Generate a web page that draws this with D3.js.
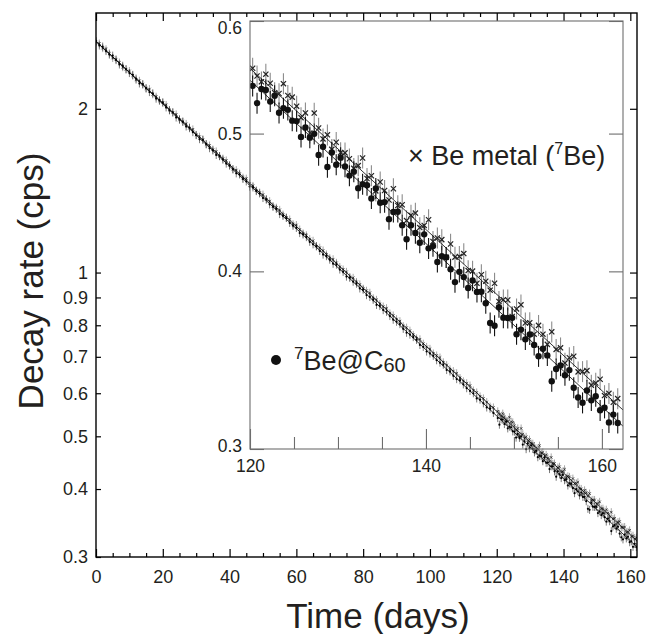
<!DOCTYPE html>
<html>
<head>
<meta charset="utf-8">
<script src="https://cdn.jsdelivr.net/npm/d3@7"></script>
<style>
  body { margin: 0; background: #fff; }
  svg { font-family: "Liberation Sans", Arial, Helvetica, sans-serif; }
</style>
</head>
<body>
<div id="chart"></div>
<script>
'use strict'

////////////////////////////////////
//////////// data //////////////////
////////////////////////////////////

// daily points, days 0..119 (main panel only)
const dailyDays = d3.range(0, 120)
const metalDaily = [
  2.652, 2.636, 2.586, 2.573, 2.528, 2.480, 2.467, 2.433, 2.386, 2.365,
  2.347, 2.302, 2.261, 2.252, 2.220, 2.180, 2.174, 2.127, 2.105, 2.068,
  2.053, 2.033, 1.990, 1.968, 1.953, 1.908, 1.895, 1.876, 1.842, 1.833,
  1.791, 1.777, 1.756, 1.720, 1.712, 1.683, 1.670, 1.636, 1.620, 1.607,
  1.575, 1.549, 1.543, 1.520, 1.494, 1.488, 1.458, 1.443, 1.416, 1.403,
  1.391, 1.363, 1.353, 1.325, 1.316, 1.304, 1.278, 1.263, 1.252, 1.227,
  1.223, 1.200, 1.180, 1.171, 1.152, 1.144, 1.118, 1.111, 1.098, 1.080,
  1.063, 1.058, 1.042, 1.024, 1.013, 1.003, 0.981, 0.978, 0.961, 0.951,
  0.934, 0.926, 0.918, 0.897, 0.891, 0.875, 0.866, 0.860, 0.841, 0.834,
  0.821, 0.814, 0.797, 0.792, 0.782, 0.768, 0.757, 0.754, 0.740, 0.730,
  0.724, 0.710, 0.704, 0.698, 0.684, 0.676, 0.664, 0.659, 0.653, 0.640,
  0.631, 0.626, 0.620, 0.607, 0.602, 0.592, 0.587, 0.578, 0.567, 0.565
]
const c60Daily = [
  2.665, 2.615, 2.603, 2.554, 2.516, 2.505, 2.458, 2.413, 2.400, 2.364,
  2.327, 2.309, 2.273, 2.227, 2.218, 2.182, 2.147, 2.136, 2.088, 2.074,
  2.055, 2.012, 1.987, 1.971, 1.928, 1.914, 1.893, 1.856, 1.847, 1.812,
  1.789, 1.759, 1.754, 1.723, 1.693, 1.677, 1.645, 1.638, 1.613, 1.586,
  1.573, 1.548, 1.522, 1.515, 1.486, 1.471, 1.439, 1.434, 1.412, 1.398,
  1.371, 1.363, 1.335, 1.321, 1.309, 1.281, 1.271, 1.260, 1.234, 1.219,
  1.208, 1.182, 1.175, 1.162, 1.139, 1.127, 1.118, 1.096, 1.079, 1.072,
  1.056, 1.038, 1.034, 1.013, 1.003, 0.983, 0.978, 0.962, 0.954, 0.935,
  0.930, 0.909, 0.902, 0.891, 0.872, 0.868, 0.853, 0.847, 0.832, 0.819,
  0.812, 0.804, 0.788, 0.775, 0.769, 0.761, 0.752, 0.736, 0.730, 0.716,
  0.710, 0.703, 0.690, 0.683, 0.677, 0.662, 0.658, 0.646, 0.637, 0.634,
  0.623, 0.613, 0.606, 0.600, 0.587, 0.584, 0.575, 0.565, 0.562, 0.552
]

// half-day points, days 120.3..161.8 (main panel + inset)
const halfDays = d3.range(120.3, 161.81, 0.5)
const metalHalf = [
  0.5558, 0.5489, 0.5437, 0.5505, 0.5425, 0.5342, 0.5335, 0.5421, 0.5318, 0.5304,
  0.5227, 0.5131, 0.5170, 0.5005, 0.5169, 0.5045, 0.4957, 0.4990, 0.4874, 0.4930,
  0.4848, 0.4846, 0.4800, 0.4726, 0.4747, 0.4806, 0.4649, 0.4670, 0.4557, 0.4623,
  0.4560, 0.4490, 0.4573, 0.4450, 0.4456, 0.4343, 0.4381, 0.4396, 0.4294, 0.4309,
  0.4349, 0.4198, 0.4222, 0.4211, 0.4092, 0.4181, 0.4093, 0.4098, 0.4117, 0.4005,
  0.4002, 0.3924, 0.3978, 0.3937, 0.3880, 0.3924, 0.3810, 0.3820, 0.3819, 0.3718,
  0.3764, 0.3789, 0.3679, 0.3681, 0.3613, 0.3665, 0.3613, 0.3554, 0.3627, 0.3525,
  0.3534, 0.3448, 0.3478, 0.3486, 0.3399, 0.3401, 0.3406, 0.3327, 0.3338, 0.3359,
  0.3271, 0.3283, 0.3236, 0.3255
]
const c60Half = [
  0.5402, 0.5253, 0.5374, 0.5366, 0.5267, 0.5316, 0.5171, 0.5210, 0.5196, 0.5106,
  0.5102, 0.4973, 0.5050, 0.4967, 0.4998, 0.4829, 0.4894, 0.4736, 0.4849, 0.4754,
  0.4809, 0.4740, 0.4671, 0.4701, 0.4577, 0.4607, 0.4599, 0.4501, 0.4575, 0.4470,
  0.4475, 0.4353, 0.4404, 0.4405, 0.4311, 0.4214, 0.4310, 0.4256, 0.4190, 0.4247,
  0.4152, 0.4167, 0.4061, 0.4099, 0.4092, 0.4014, 0.3931, 0.3997, 0.3963, 0.3894,
  0.3941, 0.3869, 0.3870, 0.3799, 0.3679, 0.3663, 0.3774, 0.3711, 0.3709, 0.3710,
  0.3613, 0.3640, 0.3583, 0.3611, 0.3551, 0.3486, 0.3529, 0.3491, 0.3348, 0.3415,
  0.3434, 0.3381, 0.3409, 0.3313, 0.3261, 0.3233, 0.3298, 0.3246, 0.3268, 0.3194,
  0.3207, 0.3132, 0.3172, 0.3129
]

// relative error bars
const errMetal = 0.017
const errC60 = 0.017

// exponential fits: initial rate and half-lives (days)
const fitA0 = 2.66
const halfLifeMetal = 53.12
const halfLifeC60 = 52.47

// ticks
const xMajor = [0, 20, 40, 60, 80, 100, 120, 140, 160]
const xMinor = [5, 10, 15, 25, 30, 35, 45, 50, 55, 65, 70, 75, 85, 90, 95, 105, 110, 115, 125, 130, 135, 145, 150, 155]
const yTicks = [0.3, 0.4, 0.5, 0.6, 0.7, 0.8, 0.9, 1, 2]
const yTickLabels = ['0.3', '0.4', '0.5', '0.6', '0.7', '0.8', '0.9', '1', '2']
const insetXMajor = [120, 140, 160]
const insetXMinor = [125, 130, 135, 145, 150, 155]
const insetYTicks = [0.3, 0.4, 0.5, 0.6]
const insetYLabels = ['0.3', '0.4', '0.5', '0.6']

////////////////////////////////////
//////////// svg setup /////////////
////////////////////////////////////

const svgWidth = 648
const svgHeight = 634
const plot = { left: 96, right: 637, top: 13, bottom: 557 }
const inset = { left: 250, right: 623, top: 21, bottom: 449 }
const ink = '#231f20'

const svg = d3.select('#chart')
  .append('svg')
  .attr('width', svgWidth)
  .attr('height', svgHeight)

const defs = svg.append('defs')
defs.append('clipPath').attr('id', 'clip-main')
  .append('rect')
  .attr('x', plot.left).attr('y', plot.top)
  .attr('width', plot.right - plot.left).attr('height', plot.bottom - plot.top)
defs.append('clipPath').attr('id', 'clip-inset')
  .append('rect')
  .attr('x', inset.left).attr('y', inset.top)
  .attr('width', inset.right - inset.left).attr('height', inset.bottom - inset.top)

////////////////////////////////////
//////////// scales ////////////////
////////////////////////////////////

const x = d3.scaleLinear().domain([0, 162]).range([plot.left, plot.right])
const y = d3.scaleLog().domain([0.3, 3]).range([plot.bottom, plot.top])
const xi = d3.scaleLinear().domain([120, 162.4]).range([inset.left, inset.right])
const yi = d3.scaleLog().domain([0.3, 0.6]).range([inset.bottom, inset.top])

const fit = (a0, hl) => t => a0 * Math.exp(-Math.LN2 * t / hl)
const fitMetal = fit(fitA0, halfLifeMetal)
const fitC60 = fit(fitA0, halfLifeC60)

const metalAll = dailyDays.map((d, i) => ({ t: d, v: metalDaily[i] }))
  .concat(halfDays.map((d, i) => ({ t: d, v: metalHalf[i] })))
const c60All = dailyDays.map((d, i) => ({ t: d, v: c60Daily[i] }))
  .concat(halfDays.map((d, i) => ({ t: d, v: c60Half[i] })))
const metalInset = halfDays.map((d, i) => ({ t: d, v: metalHalf[i] }))
const c60Inset = halfDays.map((d, i) => ({ t: d, v: c60Half[i] }))

////////////////////////////////////
//////////// helpers ///////////////
////////////////////////////////////

function errorBars(g, data, xs, ys, err, color, width) {
  g.append('g').selectAll('line')
    .data(data).join('line')
    .attr('x1', d => xs(d.t)).attr('x2', d => xs(d.t))
    .attr('y1', d => ys(d.v * (1 - err))).attr('y2', d => ys(d.v * (1 + err)))
    .attr('stroke', color).attr('stroke-width', width)
}

function crosses(g, data, xs, ys, s, color, width) {
  g.append('g').selectAll('path')
    .data(data).join('path')
    .attr('d', d => {
      const cx = xs(d.t), cy = ys(d.v)
      return `M${cx - s},${cy - s}L${cx + s},${cy + s}M${cx - s},${cy + s}L${cx + s},${cy - s}`
    })
    .attr('stroke', color).attr('stroke-width', width).attr('fill', 'none')
}

function dots(g, data, xs, ys, r, color) {
  g.append('g').selectAll('circle')
    .data(data).join('circle')
    .attr('cx', d => xs(d.t)).attr('cy', d => ys(d.v))
    .attr('r', r).attr('fill', color)
}

function fitLine(g, f, xs, ys, t0, t1) {
  g.append('line')
    .attr('x1', xs(t0)).attr('y1', ys(f(t0)))
    .attr('x2', xs(t1)).attr('y2', ys(f(t1)))
    .attr('stroke', '#000').attr('stroke-width', 0.8)
}

////////////////////////////////////
//////////// main panel ////////////
////////////////////////////////////

const main = svg.append('g').attr('clip-path', 'url(#clip-main)')
errorBars(main, metalAll, x, y, errMetal, '#6a6a6a', 0.6)
errorBars(main, c60All, x, y, errC60, '#222', 0.6)
crosses(main, metalAll, x, y, 1.3, '#111', 0.7)
dots(main, c60All, x, y, 1.1, '#000')
fitLine(main, fitMetal, x, y, 0, 162)
fitLine(main, fitC60, x, y, 0, 162)

// axes (ticks point inward)
const yAxis = d3.axisLeft(y).tickValues(yTicks)
  .tickFormat((d, i) => yTickLabels[i]).tickSize(-5).tickPadding(8)
svg.append('g').attr('class', 'y-axis')
  .attr('transform', `translate(${plot.left},0)`)
  .call(yAxis)

svg.append('g')
  .attr('transform', `translate(${plot.right},0)`)
  .call(d3.axisRight(y).tickValues(yTicks).tickFormat('').tickSize(-7))

const xAxis = d3.axisBottom(x).tickValues(xMajor).tickSize(-8).tickPadding(13)
svg.append('g').attr('class', 'x-axis')
  .attr('transform', `translate(0,${plot.bottom})`)
  .call(xAxis)
svg.append('g')
  .attr('transform', `translate(0,${plot.bottom})`)
  .call(d3.axisBottom(x).tickValues(xMinor).tickFormat('').tickSize(-4))
svg.append('g')
  .attr('transform', `translate(0,${plot.top})`)
  .call(d3.axisTop(x).tickValues(xMajor).tickFormat('').tickSize(-8))
svg.append('g')
  .attr('transform', `translate(0,${plot.top})`)
  .call(d3.axisTop(x).tickValues(xMinor).tickFormat('').tickSize(-4))

svg.selectAll('.domain').remove()
svg.selectAll('.tick line').attr('stroke', '#000').attr('stroke-width', 1.2)
svg.selectAll('.tick text').attr('fill', ink).attr('font-size', '18px')

svg.append('rect')
  .attr('x', plot.left).attr('y', plot.top)
  .attr('width', plot.right - plot.left).attr('height', plot.bottom - plot.top)
  .attr('fill', 'none').attr('stroke', '#000').attr('stroke-width', 1.4)

// axis titles
svg.append('text')
  .attr('x', 378).attr('y', 628)
  .attr('text-anchor', 'middle')
  .attr('font-size', '35px').attr('fill', ink)
  .text('Time (days)')

svg.append('text')
  .attr('transform', 'translate(43,281) rotate(-90)')
  .attr('text-anchor', 'middle')
  .attr('font-size', '35px').attr('fill', ink)
  .text('Decay rate (cps)')

////////////////////////////////////
//////////// inset /////////////////
////////////////////////////////////

const insetG = svg.append('g').attr('class', 'inset')
const insetData = insetG.append('g').attr('clip-path', 'url(#clip-inset)')
errorBars(insetData, metalInset, xi, yi, errMetal, '#8c8c8c', 1.1)
errorBars(insetData, c60Inset, xi, yi, errC60, '#111', 1.1)
fitLine(insetData, fitMetal, xi, yi, 120, 162.4)
fitLine(insetData, fitC60, xi, yi, 120, 162.4)
crosses(insetData, metalInset, xi, yi, 2.6, '#222', 1.2)
dots(insetData, c60Inset, xi, yi, 3.2, '#111')

const insetLine = '#6d6d6d'
insetG.append('g')
  .attr('transform', `translate(0,${inset.bottom})`)
  .call(d3.axisBottom(xi).tickValues(insetXMajor).tickSize(-20).tickPadding(11))
insetG.append('g')
  .attr('transform', `translate(0,${inset.bottom})`)
  .call(d3.axisBottom(xi).tickValues(insetXMinor).tickFormat('').tickSize(-12))
insetG.append('g')
  .attr('class', 'inset-y')
  .attr('transform', `translate(${inset.left},0)`)
  .call(d3.axisLeft(yi).tickValues(insetYTicks)
    .tickFormat((d, i) => insetYLabels[i]).tickSize(-14).tickPadding(8))
insetG.append('g')
  .attr('transform', `translate(${inset.right},0)`)
  .call(d3.axisRight(yi).tickValues(insetYTicks).tickFormat('').tickSize(-14))

insetG.selectAll('.domain').remove()
insetG.selectAll('.tick line').attr('stroke', insetLine).attr('stroke-width', 1.1)
insetG.selectAll('.tick text').attr('fill', ink).attr('font-size', '17.5px')

// nudge the corner labels inward like the original
insetG.select('.inset-y').selectAll('.tick text')
  .attr('dy', (d) => d === 0.6 ? '0.73em' : d === 0.3 ? '0.15em' : '0.32em')

insetG.append('rect')
  .attr('x', inset.left).attr('y', inset.top)
  .attr('width', inset.right - inset.left).attr('height', inset.bottom - inset.top)
  .attr('fill', 'none').attr('stroke', insetLine).attr('stroke-width', 1.1)

////////////////////////////////////
//////////// legend ////////////////
////////////////////////////////////

const metalLabel = svg.append('text')
  .attr('x', 408).attr('y', 165)
  .attr('font-size', '27px').attr('fill', ink)
metalLabel.append('tspan').text('\u00d7 Be metal (')
metalLabel.append('tspan').attr('font-size', '16px').attr('dy', -11).text('7')
metalLabel.append('tspan').attr('dy', 11).text('Be)')

svg.append('circle')
  .attr('cx', 276).attr('cy', 360).attr('r', 5)
  .attr('fill', '#111')

const c60Label = svg.append('text')
  .attr('x', 294).attr('y', 370)
  .attr('font-size', '27px').attr('fill', ink)
c60Label.append('tspan').attr('font-size', '17px').attr('dy', -11).text('7')
c60Label.append('tspan').attr('dy', 11).text('Be@C')
c60Label.append('tspan').attr('font-size', '20px').attr('dy', 2).text('60')
</script>
</body>
</html>
